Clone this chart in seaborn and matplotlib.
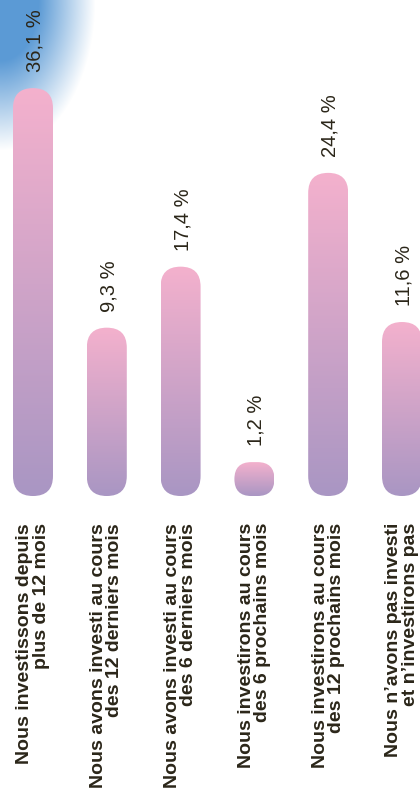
import numpy as np
import pandas as pd
import seaborn as sns
import matplotlib
matplotlib.use("Agg")
import matplotlib.pyplot as plt
from matplotlib.patches import FancyBboxPatch
from matplotlib.colors import to_rgb

# ---- data -------------------------------------------------------------
categories = [
    "Nous investissons depuis\nplus de 12 mois",
    "Nous avons investi au cours\ndes 12 derniers mois",
    "Nous avons investi au cours\ndes 6 derniers mois",
    "Nous investirons au cours\ndes 6 prochains mois",
    "Nous investirons au cours\ndes 12 prochains mois",
    "Nous n\u2019avons pas investi\net n\u2019investirons pas",
]
values = [36.1, 9.3, 17.4, 1.2, 24.4, 11.6]
value_labels = ["36,1 %", "9,3 %", "17,4 %", "1,2 %", "24,4 %", "11,6 %"]
# bar lengths as drawn in the picture (the original is not to scale)
bar_display = [36.1, 14.9, 20.3, 3.0, 28.6, 15.4]

# ---- style ------------------------------------------------------------
sns.set_style("white")
plt.rcParams["font.family"] = ["Liberation Sans", "DejaVu Sans"]
TXT = "#2b2619"
TOP = np.array(to_rgb("#f4b1cd"))
BOT = np.array(to_rgb("#a996c3"))
BLUE = np.array(to_rgb("#5b9ad5"))

W, H = 420, 796
fig = plt.figure(figsize=(W / 100, H / 100), dpi=100)

# blue corner decoration
bg = fig.add_axes([0, 0, 1, 1], zorder=0)
yy, xx = np.mgrid[0:H, 0:W]
r = np.sqrt((xx / 95.0) ** 2 + (yy / 150.0) ** 2)
f = np.clip((1 - r) / 0.6, 0, 1)
img = 1 - f[..., None] * (1 - BLUE)
bg.imshow(img, extent=(0, W, H, 0), aspect="auto")
bg.set_xlim(0, W)
bg.set_ylim(H, 0)
bg.axis("off")

# main axes
ax = fig.add_axes([0, 0, 1, 1], zorder=1)
ax.patch.set_alpha(0)
df = pd.DataFrame({"cat": categories, "len": bar_display, "value": values})
sns.barplot(data=df, x="cat", y="len", ax=ax, width=0.542, color="#c0a0c8")

xlim = (-0.447, 5.244)
ylim = (-26.55, 43.9)
ax.set_xlim(*xlim)
ax.set_ylim(*ylim)
ax.axis("off")

xpx = W / (xlim[1] - xlim[0])
ypx = H / (ylim[1] - ylim[0])
m = xpx / ypx

grad = np.linspace(0, 1, 256)[:, None, None]
grad_img = TOP * (1 - grad) + BOT * grad

gap = 16 / ypx
for i, p in enumerate(list(ax.patches)):
    x0, w, h = p.get_x(), p.get_width(), p.get_height()
    p.set_visible(False)
    rs = min(w / 2, h / m / 2)
    fb = FancyBboxPatch((x0, 0), w, h,
                        boxstyle=f"round,pad=0,rounding_size={rs}",
                        mutation_aspect=m, facecolor="none",
                        edgecolor="none", transform=ax.transData)
    ax.add_patch(fb)
    im = ax.imshow(grad_img, extent=(x0, x0 + w, 0, h), aspect="auto",
                   origin="upper", zorder=2)
    im.set_clip_path(fb)
    xc = x0 + w / 2
    ax.text(xc + 2 / xpx, h + gap, value_labels[i], rotation=90,
            rotation_mode="anchor", ha="left", va="center",
            fontsize=14.5, color=TXT)
    ax.text(xc, -27 / ypx, categories[i], rotation=90,
            rotation_mode="anchor", ha="right", va="center",
            multialignment="right", fontsize=14, fontweight="bold",
            color=TXT, linespacing=0.95)

ax.set_xlim(*xlim)
ax.set_ylim(*ylim)
fig.savefig("out.png", dpi=100)
